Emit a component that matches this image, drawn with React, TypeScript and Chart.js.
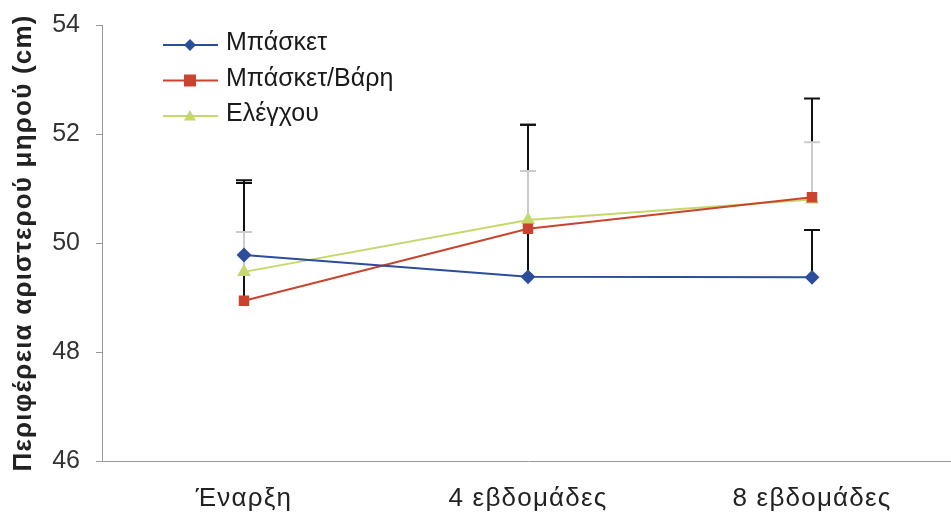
import React, { useEffect, useRef } from "react";
import { Chart, registerables } from "chart.js";

Chart.register(...registerables);

const categories = ["Έναρξη", "4 εβδομάδες", "8 εβδομάδες"];
const seriesNames = ["Μπάσκετ", "Μπάσκετ/Βάρη", "Ελέγχου"];
const basketValues = [49.78, 49.38, 49.37];
const basketWeightValues = [48.94, 50.26, 50.84];
const controlValues = [49.47, 50.42, 50.8];
const basketUpper = [51.15, 52.17, 50.24];
const basketWeightUpper = [51.1, 52.17, 52.65];
const controlUpper = [50.2, 51.32, 51.85];
const yTicks = [46, 48, 50, 52, 54];
const yTitle = "Περιφέρεια αριστερού μηρού (cm)";

const FONT = "'Liberation Sans', Arial, sans-serif";

const errorBarPlugin = {
  id: "errorBars",
  beforeDatasetsDraw(chart: any) {
    const ctx = chart.ctx;
    const y = chart.scales.y;
    chart.data.datasets.forEach((ds: any, i: number) => {
      const meta = chart.getDatasetMeta(i);
      ctx.save();
      ctx.strokeStyle = ds.errorColor;
      ctx.lineWidth = 2;
      meta.data.forEach((pt: any, j: number) => {
        const yTop = y.getPixelForValue(ds.upper[j]);
        ctx.beginPath();
        ctx.moveTo(pt.x, pt.y);
        ctx.lineTo(pt.x, yTop);
        ctx.moveTo(pt.x - 8, yTop);
        ctx.lineTo(pt.x + 8, yTop);
        ctx.stroke();
      });
      ctx.restore();
    });
  },
};

// slight letter spacing for the x labels and the y title
const spacingPlugin = {
  id: "spacing",
  beforeDraw(chart: any) {
    const ctx = chart.ctx;
    const wrap = (scale: any, method: string, spacing: string) => {
      if (!scale || scale["__w_" + method]) return;
      const orig = scale[method].bind(scale);
      scale[method] = (...args: any[]) => {
        const prev = ctx.letterSpacing;
        ctx.letterSpacing = spacing;
        orig(...args);
        ctx.letterSpacing = prev || "0px";
      };
      scale["__w_" + method] = true;
    };
    wrap(chart.scales.x, "drawLabels", "1.2px");
    wrap(chart.scales.y, "drawTitle", "1.2px");
  },
};

const legendPlugin = {
  id: "customLegend",
  afterDraw(chart: any) {
    const ctx = chart.ctx;
    const x0 = 163;
    const x1 = 218;
    const lineYs = [45, 80.5, 116];
    const textYs = [50, 86, 121];
    chart.data.datasets.forEach((ds: any, i: number) => {
      const yy = lineYs[i];
      ctx.save();
      ctx.letterSpacing = "0px";
      ctx.strokeStyle = ds.borderColor;
      ctx.lineWidth = 2;
      ctx.beginPath();
      ctx.moveTo(x0, yy);
      ctx.lineTo(x1, yy);
      ctx.stroke();
      ctx.fillStyle = ds.backgroundColor;
      const cx = 190;
      const r = 6;
      ctx.beginPath();
      if (ds.pointStyle === "rect") {
        ctx.rect(cx - r, yy - r, 2 * r, 2 * r);
      } else if (ds.pointStyle === "rectRot") {
        ctx.moveTo(cx, yy - r);
        ctx.lineTo(cx + r, yy);
        ctx.lineTo(cx, yy + r);
        ctx.lineTo(cx - r, yy);
        ctx.closePath();
      } else {
        ctx.moveTo(cx, yy - r);
        ctx.lineTo(cx + r, yy + r * 0.75);
        ctx.lineTo(cx - r, yy + r * 0.75);
        ctx.closePath();
      }
      ctx.fill();
      ctx.fillStyle = "#1a1a1a";
      ctx.font = `25px ${FONT}`;
      ctx.textBaseline = "alphabetic";
      ctx.textAlign = "left";
      ctx.fillText(ds.label, 226, textYs[i]);
      ctx.restore();
    });
  },
};

export default function App() {
  const ref = useRef<HTMLCanvasElement>(null);
  useEffect(() => {
    document.body.style.margin = "0";
    const chart = new Chart(ref.current as HTMLCanvasElement, {
      type: "line",
      data: {
        labels: categories,
        datasets: [
          {
            label: seriesNames[0],
            data: basketValues,
            borderColor: "#2C4D9C",
            backgroundColor: "#2C4D9C",
            pointStyle: "rectRot",
            pointRadius: 6,
            borderWidth: 2,
            upper: basketUpper,
            errorColor: "#111",
          } as any,
          {
            label: seriesNames[1],
            data: basketWeightValues,
            borderColor: "#C9432F",
            backgroundColor: "#C9432F",
            pointStyle: "rect",
            pointRadius: 6,
            borderWidth: 2,
            upper: basketWeightUpper,
            errorColor: "#111",
          } as any,
          {
            label: seriesNames[2],
            data: controlValues,
            borderColor: "#C4D86C",
            backgroundColor: "#C4D86C",
            pointStyle: "triangle",
            pointRadius: 6,
            borderWidth: 2,
            upper: controlUpper,
            errorColor: "#cccccc",
          } as any,
        ],
      },
      options: {
        animation: false,
        responsive: false,
        maintainAspectRatio: false,
        layout: { padding: { top: 25, right: 0, left: 0, bottom: 0 } },
        plugins: {
          legend: { display: false },
          tooltip: { enabled: false },
        },
        scales: {
          x: {
            offset: true,
            grid: { drawOnChartArea: false, drawTicks: false },
            border: { display: true, color: "#999", width: 1 },
            ticks: {
              padding: 22,
              color: "#222",
              font: { family: FONT, size: 26 },
            },
            afterFit(scale: any) {
              scale.height = 54;
            },
          },
          y: {
            min: 46,
            max: 54,
            afterBuildTicks(scale: any) {
              scale.ticks = yTicks.map((v) => ({ value: v }));
            },
            grid: {
              drawOnChartArea: false,
              drawTicks: true,
              tickLength: 6,
              color: "#999",
            },
            border: { display: true, color: "#999", width: 1 },
            ticks: {
              padding: 16,
              color: "#333",
              font: { family: FONT, size: 25 },
            },
            title: {
              display: true,
              text: yTitle,
              color: "#222",
              padding: { top: 8, bottom: 0 },
              font: { family: FONT, size: 26, weight: "bold" },
            },
            afterFit(scale: any) {
              scale.width = 102;
              scale.paddingTop = 0;
              scale.paddingBottom = 0;
            },
          },
        },
      } as any,
      plugins: [spacingPlugin, errorBarPlugin, legendPlugin],
    });
    return () => chart.destroy();
  }, []);
  return (
    <div style={{ width: 951, height: 515, overflow: "hidden", background: "#fff" }}>
      <canvas ref={ref} width={962} height={515} style={{ display: "block" }} />
    </div>
  );
}
